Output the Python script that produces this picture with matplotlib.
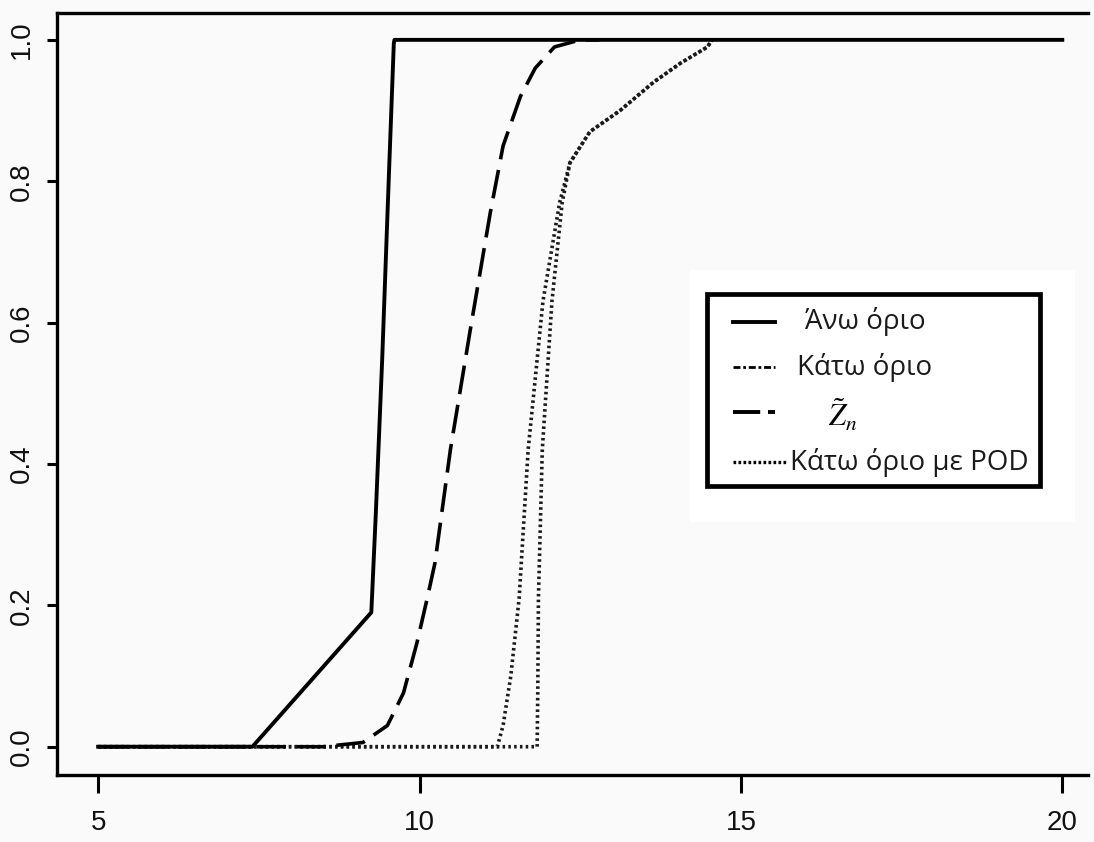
import matplotlib
matplotlib.use("Agg")
import matplotlib.pyplot as plt
from matplotlib.lines import Line2D
from matplotlib.patches import Rectangle

# curves
upper_x = [5, 7.40, 9.25, 9.32, 9.42, 9.52, 9.60, 9.61, 20]
upper_y = [0, 0, 0.19, 0.33, 0.55, 0.80, 0.995, 1.0, 1.0]

lower_x = [5, 11.83, 11.84, 11.85, 11.91, 12.06, 12.22, 12.34, 12.65, 13.12, 13.64, 14.06, 14.48, 14.55]
lower_y = [0, 0, 0.08, 0.21, 0.42, 0.63, 0.77, 0.826, 0.87, 0.90, 0.94, 0.967, 0.99, 1.0]

z_x = [5, 8.5, 9.12, 9.5, 9.75, 9.96, 10.12, 10.24, 10.48, 10.79, 11.1, 11.3, 11.57, 11.8, 12.1, 12.5, 12.8]
z_y = [0, 0, 0.006, 0.03, 0.076, 0.147, 0.21, 0.26, 0.42, 0.59, 0.755, 0.85, 0.92, 0.96, 0.99, 1.0, 1.0]

pod_x = [5, 11.21, 11.30, 11.42, 11.55, 11.69, 11.92, 12.18, 12.34, 12.65, 13.12, 13.64, 14.06, 14.48, 14.55]
pod_y = [0, 0, 0.03, 0.10, 0.21, 0.42, 0.63, 0.77, 0.826, 0.87, 0.90, 0.94, 0.967, 0.99, 1.0]

x_ticks = [5, 10, 15, 20]
y_ticks = [0.0, 0.2, 0.4, 0.6, 0.8, 1.0]
labels = ['Άνω όριο', 'Κάτω όριο', r'$\tilde{Z}_n$', 'Κάτω όριο με POD']

W, H = 1094, 842
fig = plt.figure(figsize=(W / 100, H / 100), dpi=100, facecolor='#fafafa')
ax = fig.add_axes([57 / W, 1 - 775 / H, (1088 - 57) / W, (775 - 13) / H])
ax.set_facecolor('#fafafa')

lw = 2.6
ax.plot(pod_x, pod_y, color='#1a1a1a', lw=lw, linestyle=(0, (0.7, 0.9)))
ax.plot(lower_x, lower_y, color='#1a1a1a', lw=lw, linestyle=(0, (0.7, 0.9)))
ax.plot(z_x, z_y, color='black', lw=lw, linestyle=(0, (8, 3)))
ax.plot(upper_x, upper_y, color='black', lw=2.8)

ax.set_xlim(4.36, 20.4)
ax.set_ylim(-0.04, 1.038)
ax.set_xticks(x_ticks)
ax.set_xticklabels([str(t) for t in x_ticks])
ax.set_yticks(y_ticks)
ax.set_yticklabels([f'{t:.1f}' for t in y_ticks], rotation=90, va='center')

tick_font = ['Liberation Sans Narrow', 'Liberation Sans', 'DejaVu Sans']
for lab in ax.get_xticklabels() + ax.get_yticklabels():
    lab.set_fontfamily(tick_font)
    lab.set_fontsize(20)
    lab.set_color('#111111')
ax.tick_params(axis='x', length=13, width=2.2, pad=12)
ax.tick_params(axis='y', length=7, width=2.2, pad=9)
for side in ['left', 'bottom', 'top']:
    ax.spines[side].set_linewidth(2.4)
ax.spines['right'].set_visible(False)


def fx(px):
    return px / W


def fy(py):
    return 1 - py / H


# legend box, drawn by hand like the pasted one in the picture
fig.patches.append(Rectangle((fx(690), fy(522)), fx(1075) - fx(690), fy(270) - fy(522),
                             transform=fig.transFigure, facecolor='white', edgecolor='none', zorder=5))
fig.patches.append(Rectangle((fx(707), fy(486)), fx(1040) - fx(707), fy(294) - fy(486),
                             transform=fig.transFigure, facecolor='white', edgecolor='black',
                             linewidth=3.4, zorder=6))

rows_y = [322, 367, 412, 462]
text_x = [805, 797, 828, 790]
styles = [dict(linestyle='-', lw=2.8), dict(linestyle=(0, (2.5, 1, 1, 1)), lw=2.0),
          dict(linestyle=(0, (7, 2)), lw=2.8), dict(linestyle=(0, (0.8, 0.7)), lw=2.4)]
ends = [775, 775, 775, 787]
for ry, tx, st, e, lab in zip(rows_y, text_x, styles, ends, labels):
    fig.lines.append(Line2D([fx(733), fx(e)], [fy(ry), fy(ry)], transform=fig.transFigure,
                            color='black', zorder=7, **st))
    if lab.startswith('$'):
        fig.text(fx(tx), fy(ry + 3), lab, fontsize=22, va='center', ha='left',
                 math_fontfamily='stix', zorder=7)
    else:
        fig.text(fx(tx), fy(ry), lab, fontsize=20, va='center', ha='left',
                 family=['Open Sans', 'DejaVu Sans'], color='#1a1a1a', zorder=7)

fig.savefig('out.png', dpi=100, facecolor=fig.get_facecolor())
